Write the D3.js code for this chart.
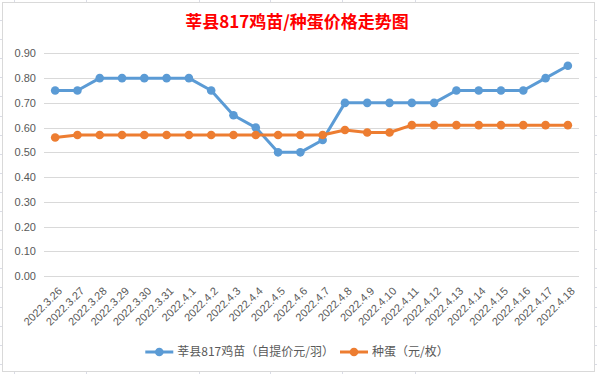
<!DOCTYPE html>
<meta charset="utf-8">
<style>
body { margin: 0; background: #fff; }
text { font-family: "Liberation Sans", "Noto Sans CJK SC", sans-serif; }
.grid line { stroke: #d9d9d9; stroke-width: 1px; }
.lbl { fill: #595959; font-size: 11px; }
</style>
<body>
<script src="https://cdn.jsdelivr.net/npm/d3@7"></script>
<svg id="chart" width="597" height="374"></svg>
<script>

// dates on the x axis
var dates = ["2022.3.26", "2022.3.27", "2022.3.28", "2022.3.29", "2022.3.30", "2022.3.31",
  "2022.4.1", "2022.4.2", "2022.4.3", "2022.4.4", "2022.4.5", "2022.4.6", "2022.4.7",
  "2022.4.8", "2022.4.9", "2022.4.10", "2022.4.11", "2022.4.12", "2022.4.13",
  "2022.4.14", "2022.4.15", "2022.4.16", "2022.4.17", "2022.4.18"];

// chick price (yuan per chick)
var chick = [0.75, 0.75, 0.80, 0.80, 0.80, 0.80, 0.80, 0.75, 0.65, 0.60, 0.50, 0.50, 0.55,
  0.70, 0.70, 0.70, 0.70, 0.70, 0.75, 0.75, 0.75, 0.75, 0.80, 0.85];

// egg price (yuan per egg)
var egg = [0.56, 0.57, 0.57, 0.57, 0.57, 0.57, 0.57, 0.57, 0.57, 0.57, 0.57, 0.57, 0.57,
  0.59, 0.58, 0.58, 0.61, 0.61, 0.61, 0.61, 0.61, 0.61, 0.61, 0.61];

var yTicks = [0, 0.1, 0.2, 0.3, 0.4, 0.5, 0.6, 0.7, 0.8, 0.9];

var seriesNames = ["莘县817鸡苗（自提价元/羽）", "种蛋（元/枚）"];
var seriesColors = ["#5b9bd5", "#ed7d31"];

var title = "莘县817鸡苗/种蛋价格走势图";

var svg = d3.select("#chart");

// spreadsheet cells peeking out round the chart
var colEdges = [14, 86, 199, 270, 342, 415];
svg.append("g").selectAll("line")
    .data(colEdges)
  .enter().append("line")
    .attr("x1", function(d) { return d + 0.5; })
    .attr("x2", function(d) { return d + 0.5; })
    .attr("y1", 0).attr("y2", 374)
    .attr("stroke", "#dadce6");
var rowEdges = d3.range(20, 374, 19.1);
svg.append("g").selectAll("line")
    .data(rowEdges)
  .enter().append("line")
    .attr("x1", 0).attr("x2", 597)
    .attr("y1", function(d) { return Math.round(d) + 0.5; })
    .attr("y2", function(d) { return Math.round(d) + 0.5; })
    .attr("stroke", "#dadce6");

// chart area
svg.append("rect")
    .attr("x", 2.5).attr("y", 2.5)
    .attr("width", 592).attr("height", 369)
    .attr("fill", "#fff")
    .attr("stroke", "#d9d9d9");

var margin = {top: 53, right: 18, bottom: 98, left: 44},
    width = 597 - margin.left - margin.right,
    height = 374 - margin.top - margin.bottom;

var x = d3.scaleBand().domain(dates).range([margin.left, margin.left + width]);
var y = d3.scaleLinear().domain([0, 0.9]).range([276, 53.4]);

// gridlines
svg.append("g")
    .attr("class", "grid")
    .selectAll("line")
    .data(yTicks)
  .enter().append("line")
    .attr("x1", margin.left).attr("x2", margin.left + width)
    .attr("y1", function(d) { return Math.round(y(d)) + 0.5; })
    .attr("y2", function(d) { return Math.round(y(d)) + 0.5; });

// y axis labels
var yAxis = d3.axisLeft(y).tickValues(yTicks).tickFormat(d3.format(".2f")).tickSize(0).tickPadding(8);
var yg = svg.append("g")
    .attr("transform", "translate(" + margin.left + ",0)")
    .call(yAxis);
yg.select(".domain").remove();
yg.selectAll("text").attr("class", "lbl").attr("fill", null).style("font-family", null);

// x axis labels, rotated
var xAxis = d3.axisBottom(x).tickSize(0).tickPadding(0);
var xg = svg.append("g")
    .attr("transform", "translate(0,276)")
    .call(xAxis);
xg.select(".domain").remove();
xg.selectAll("text")
    .attr("class", "lbl")
    .attr("fill", null)
    .style("font-family", null)
    .style("text-anchor", "end")
    .attr("dy", "0.35em")
    .attr("x", 0).attr("y", 0)
    .attr("transform", "translate(5,13) rotate(-45)");

// lines and markers
var line = d3.line()
    .x(function(d, i) { return x(dates[i]) + x.bandwidth() / 2; })
    .y(function(d) { return y(d); });

[chick, egg].forEach(function(values, k) {
  svg.append("path")
      .datum(values)
      .attr("fill", "none")
      .attr("stroke", seriesColors[k])
      .attr("stroke-width", 3)
      .attr("stroke-linejoin", "round")
      .attr("d", line);
  svg.append("g").selectAll("circle")
      .data(values)
    .enter().append("circle")
      .attr("cx", function(d, i) { return x(dates[i]) + x.bandwidth() / 2; })
      .attr("cy", function(d) { return y(d); })
      .attr("r", 4.3)
      .attr("fill", seriesColors[k]);
});

// title
svg.append("text")
    .attr("x", 297)
    .attr("y", 28)
    .attr("text-anchor", "middle")
    .attr("fill", "#ff0000")
    .style("font-size", "17px")
    .style("font-weight", "bold")
    .style("font-family", "'Noto Sans CJK SC', sans-serif")
    .text(title);

// legend
var legend = svg.append("g");
var legX = 0;
seriesNames.forEach(function(name, k) {
  var item = legend.append("g").attr("transform", "translate(" + legX + ",0)");
  item.append("line")
      .attr("x1", 0).attr("x2", 28)
      .attr("y1", 0).attr("y2", 0)
      .attr("stroke", seriesColors[k])
      .attr("stroke-width", 3);
  item.append("circle")
      .attr("cx", 14).attr("cy", 0).attr("r", 4.3)
      .attr("fill", seriesColors[k]);
  var t = item.append("text")
      .attr("x", 32)
      .attr("dy", "0.35em")
      .attr("fill", "#595959")
      .style("font-size", "12px")
      .style("font-family", "'Noto Sans CJK SC', sans-serif")
      .text(name);
  legX += 32 + t.node().getComputedTextLength() + 6;
});
legend.attr("transform", "translate(" + (297 - (legX - 6) / 2) + ",352)");

</script>
</body>
